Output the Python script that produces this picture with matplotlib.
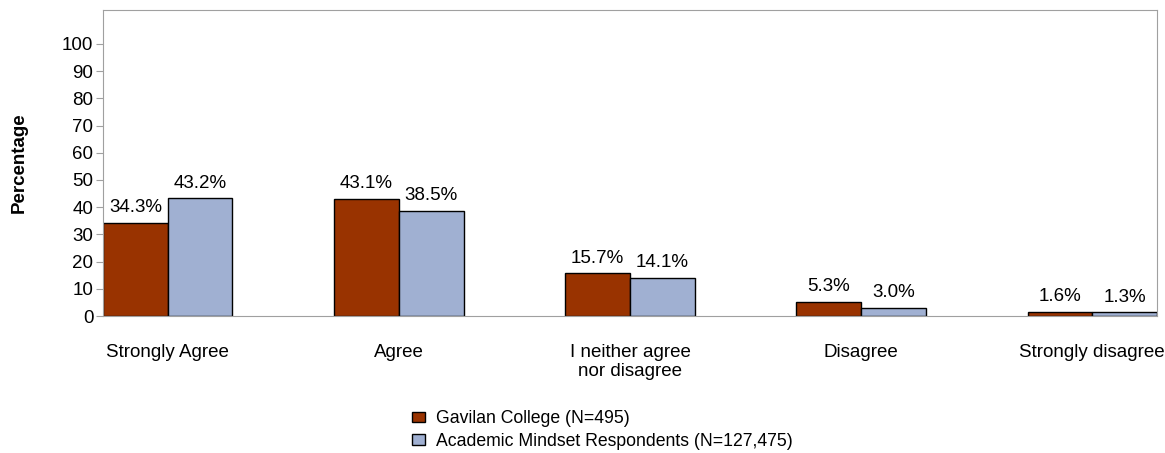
import matplotlib
matplotlib.use('Agg')
import matplotlib.pyplot as plt
import numpy as np

plt.rcParams['font.family'] = ['Liberation Sans', 'DejaVu Sans']

categories = ['Strongly Agree', 'Agree', 'I neither agree\nnor disagree', 'Disagree', 'Strongly disagree']
gavilan = [34.3, 43.1, 15.7, 5.3, 1.6]
academic = [43.2, 38.5, 14.1, 3.0, 1.3]
series_names = ['Gavilan College (N=495)', 'Academic Mindset Respondents (N=127,475)']
yticks = [0, 10, 20, 30, 40, 50, 60, 70, 80, 90, 100]

fig = plt.figure(figsize=(11.65, 4.53), dpi=100)
ax = fig.add_axes([0.0884, 0.3024, 0.9047, 0.6756])

x = np.arange(len(categories))
w = 0.28
b1 = ax.bar(x - w/2, gavilan, w, color='#993300', edgecolor='black', linewidth=1, label=series_names[0])
b2 = ax.bar(x + w/2, academic, w, color='#A0B0D2', edgecolor='black', linewidth=1, label=series_names[1])

# value labels on top of bars
for bars, vals in [(b1, gavilan), (b2, academic)]:
    for r, v in zip(bars, vals):
        ax.text(r.get_x() + r.get_width()/2, v + 2.5, '%.1f%%' % v, ha='center', va='bottom', fontsize=13.5)

ax.set_xlim(-w, len(categories) - 1 + w)
ax.set_ylim(0, 112.5)
ax.set_yticks(yticks)
ax.tick_params(axis='y', labelsize=13.5, length=5, color='#a0a0a0', pad=2)
ax.set_xticks(x)
ax.set_xticklabels(categories, fontsize=13.5)
ax.tick_params(axis='x', length=0, pad=20)
ax.set_ylabel('Percentage', fontsize=13.5, fontweight='bold')
ax.yaxis.set_label_coords(-0.071, 0.5)
for s in ax.spines.values():
    s.set_color('#a0a0a0')

fig.legend(loc='upper left', bbox_to_anchor=(0.3536, 0.095), frameon=False, fontsize=12.7,
           handlelength=0.72, handleheight=0.5, handletextpad=0.65, labelspacing=0.33,
           borderpad=0, borderaxespad=0)

fig.savefig('out.png', dpi=100)
